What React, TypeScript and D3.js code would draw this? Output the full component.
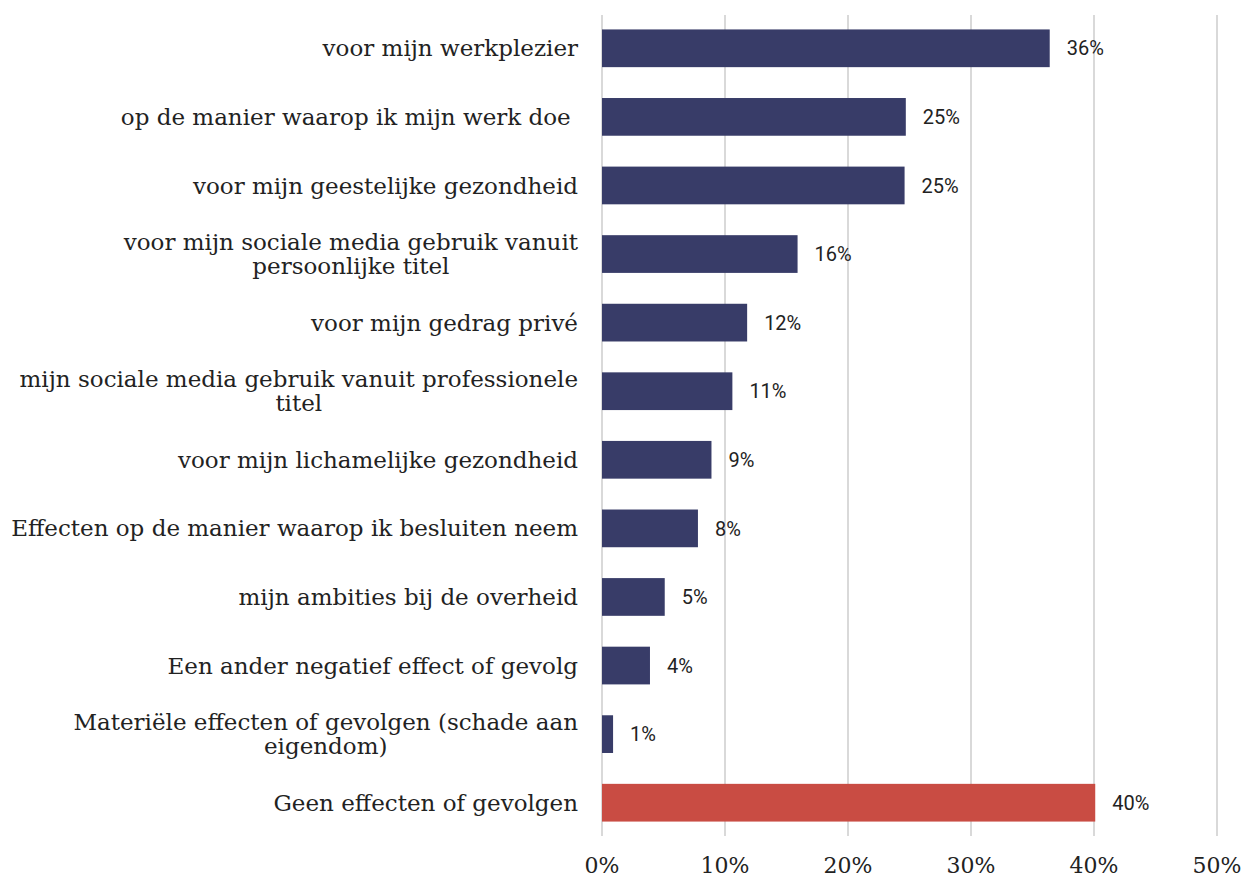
import React from "react";
import * as d3 from "d3";

const categories: string[][] = [
  ["voor mijn werkplezier"],
  ["op de manier waarop ik mijn werk doe "],
  ["voor mijn geestelijke gezondheid"],
  ["voor mijn sociale media gebruik vanuit", "persoonlijke titel"],
  ["voor mijn gedrag privé"],
  ["mijn sociale media gebruik vanuit professionele", "titel"],
  ["voor mijn lichamelijke gezondheid"],
  ["Effecten op de manier waarop ik besluiten neem"],
  ["mijn ambities bij de overheid"],
  ["Een ander negatief effect of gevolg"],
  ["Materiële effecten of gevolgen (schade aan", "eigendom)"],
  ["Geen effecten of gevolgen"],
];
const values: number[] = [36.4, 24.7, 24.6, 15.9, 11.8, 10.6, 8.9, 7.8, 5.1, 3.9, 0.9, 40.1];
const valueLabels: string[] = ["36%", "25%", "25%", "16%", "12%", "11%", "9%", "8%", "5%", "4%", "1%", "40%"];
const highlighted: boolean[] = [false, false, false, false, false, false, false, false, false, false, false, true];
const ticks: number[] = [0, 10, 20, 30, 40, 50];
const tickLabels: string[] = ["0%", "10%", "20%", "30%", "40%", "50%"];

const W = 1247;
const H = 880;
const SERIF = "'DejaVu Serif', serif";
const CAT_SIZE = 23;

let ctx: CanvasRenderingContext2D | null = null;
function measure(s: string, font: string): number {
  if (!ctx) ctx = document.createElement("canvas").getContext("2d");
  if (!ctx) return s.length * 12;
  ctx.font = font;
  return ctx.measureText(s).width;
}

export default function App() {
  const x = d3.scaleLinear().domain([0, 50]).range([602, 1217]);
  const idx = categories.map((_, i) => String(i));
  const y = d3.scaleBand().domain(idx).range([14, 837]).paddingInner(0.45).paddingOuter(0.225);
  const labelRight = 578;
  const catFont = `${CAT_SIZE}px 'DejaVu Serif'`;
  return (
    <svg width={W} height={H} style={{ position: "absolute", left: 0, top: 0, background: "#fff" }}>
      {ticks.map((t, i) => (
        <line key={"g" + i} x1={x(t)} x2={x(t)} y1={15} y2={836} stroke="#d9d9d9" strokeWidth={2} />
      ))}
      {values.map((v, i) => {
        const yy = y(String(i))!;
        return (
          <g key={"b" + i}>
            <rect x={x(0)} y={yy} width={x(v) - x(0)} height={y.bandwidth()} fill={highlighted[i] ? "#c94c43" : "#383c68"} />
            <text x={x(v) + 17} y={yy + y.bandwidth() / 2} dy="0.36em" fontFamily="Roboto, sans-serif" fontSize={20} fill="#222">
              {valueLabels[i]}
            </text>
          </g>
        );
      })}
      {categories.map((lines, i) => {
        const cy = y(String(i))! + y.bandwidth() / 2;
        const lh = 24;
        const start = cy - ((lines.length - 1) * lh) / 2;
        if (lines.length === 1) {
          return (
            <text key={"c" + i} x={labelRight} y={cy} dy="0.35em" fontFamily={SERIF} fontSize={CAT_SIZE} fill="#222" textAnchor="end" style={{ whiteSpace: "pre" }}>
              {lines[0]}
            </text>
          );
        }
        const maxW = Math.max(...lines.map((l) => measure(l, catFont)));
        const cx = labelRight - maxW / 2;
        return (
          <text key={"c" + i} fontFamily={SERIF} fontSize={CAT_SIZE} fill="#222" textAnchor="middle">
            {lines.map((l, j) => (
              <tspan key={j} x={cx} y={start + j * lh} dy="0.35em">
                {l}
              </tspan>
            ))}
          </text>
        );
      })}
      {ticks.map((t, i) => (
        <text key={"t" + i} x={x(t)} y={873} textAnchor="middle" fontFamily={SERIF} fontSize={22} fill="#222">
          {tickLabels[i]}
        </text>
      ))}
    </svg>
  );
}
